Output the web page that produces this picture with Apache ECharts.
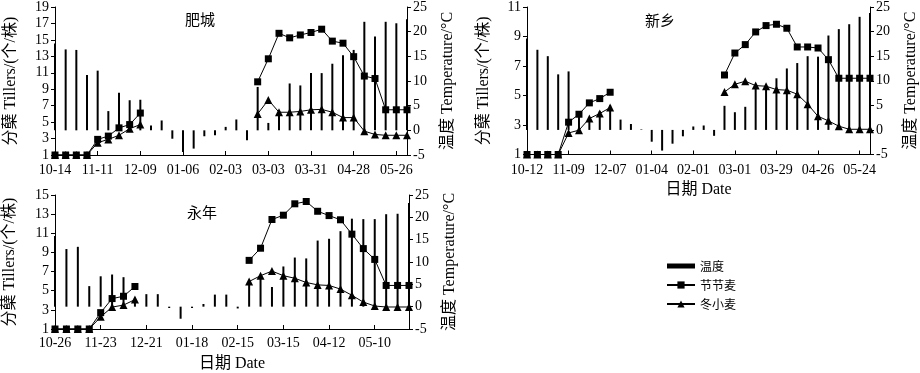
<!DOCTYPE html>
<html><head><meta charset="utf-8">
<script src="https://cdn.jsdelivr.net/npm/echarts@6/dist/echarts.min.js"></script>
<style>html,body{margin:0;padding:0;background:#fff}#c{width:920px;height:373px}</style>
</head><body><div id="c"></div>
<script>
// ---------- data ----------
const datesFC = ['10-14','10-21','10-28','11-04','11-11','11-18','11-25','12-02','12-09','12-16','12-23','12-30','01-06','01-13','01-20','01-27','02-03','02-10','02-17','02-24','03-03','03-10','03-17','03-24','03-31','04-07','04-14','04-21','04-28','05-05','05-12','05-19','05-26','06-02'];
const tempFC = [17.6,16.4,16.3,11.2,12.1,3.9,7.6,6.1,6.2,1.0,2.0,-1.7,-4.4,-3.7,-1.2,-1.0,0.7,2.2,-2.0,8.8,1.5,3.7,9.5,9.1,11.6,11.6,13.5,15.2,16.3,22.0,19.0,22.0,21.7,22.5];
const aeFC = [1,1,1,1,2.9,3.3,4.3,4.7,6.1,null,null,null,null,null,null,null,null,null,null,9.9,12.7,15.8,15.25,15.6,15.9,16.3,14.85,14.6,12.96,10.6,10.3,6.5,6.5,6.5];
const wheatFC = [1,1,1,1,2.5,2.9,3.4,4.2,4.7,null,null,null,null,null,null,null,null,null,null,6.0,7.7,6.2,6.2,6.3,6.5,6.55,6.2,5.55,5.55,3.9,3.5,3.4,3.4,3.4];

const datesXX = ['10-12','10-19','10-26','11-02','11-09','11-16','11-23','11-30','12-07','12-14','12-21','12-28','01-04','01-11','01-18','01-25','02-01','02-08','02-15','02-22','03-01','03-08','03-15','03-22','03-29','04-05','04-12','04-19','04-26','05-03','05-10','05-17','05-24','05-31'];
const tempXX = [18.6,16.3,15.0,11.3,11.9,3.3,2.6,3.8,5.0,2.1,1.2,0.1,-2.4,-4.2,-2.8,-1.3,0.7,0.9,-1.2,4.9,3.6,4.7,8.8,8.6,10.5,12.5,13.6,15.0,14.9,19.2,20.5,21.5,23.0,23.8];
const aeXX = [1,1,1,1,3.19,3.73,4.5,4.79,5.22,null,null,null,null,null,null,null,null,null,null,6.39,7.88,8.45,9.31,9.74,9.83,9.56,8.29,8.29,8.22,7.43,6.17,6.17,6.17,6.17];
const wheatXX = [1,1,1,1,2.46,2.65,3.44,3.78,4.18,null,null,null,null,null,null,null,null,null,null,5.24,5.76,5.97,5.67,5.63,5.40,5.36,5.09,4.41,3.59,3.28,2.92,2.71,2.71,2.71];

const datesYN = ['10-26','11-02','11-09','11-16','11-23','11-30','12-07','12-14','12-21','12-28','01-04','01-11','01-18','01-25','02-01','02-08','02-15','02-22','03-01','03-08','03-15','03-22','03-29','04-05','04-12','04-19','04-26','05-03','05-10','05-17','05-24','05-31'];
const tempYN = [15.8,12.9,13.4,4.6,6.8,7.2,6.6,2.0,2.8,2.8,-0.3,-2.7,-0.3,0.6,2.7,2.7,-0.4,6.0,6.8,4.4,9.0,11.0,10.8,14.8,15.2,16.9,19.7,19.6,19.6,20.7,20.8,23.2];
const aeYN = [1,1,1,1,2.71,4.18,4.42,5.44,null,null,null,null,null,null,null,null,null,8.17,9.44,12.44,12.89,14.08,14.32,13.30,12.85,12.41,10.91,9.40,8.27,5.55,5.55,5.55];
const wheatYN = [1,1,1,1,2.27,3.29,3.5,4.07,null,null,null,null,null,null,null,null,null,5.96,6.57,7.05,6.57,6.30,5.86,5.61,5.55,5.17,4.52,3.81,3.40,3.30,3.30,3.30];

const panelTitles = ['肥城','新乡','永年'];
const seriesNames = ['温度','节节麦','冬小麦'];
const leftAxisName = '分蘖 Tillers/(个/株)';
const rightAxisName = '温度 Temperature/°C';
const xAxisName = '日期 Date';
const leftRanges = [[1,19],[1,11],[1,15]];
const rightRange = [-5,25];

// ---------- styling ----------
const SERIF = "'Liberation Serif','Times New Roman',serif";
const MIX = "'Liberation Serif','Times New Roman','Noto Sans CJK SC',serif";
const CJK = "'Noto Sans CJK SC',sans-serif";
const BLACK = '#000';

const grids = [
  {left:55, top:6, width:352, height:149},
  {left:527, top:6.5, width:346.5, height:148},
  {left:55, top:195, width:354, height:137}
];
const leftGaps = [36, 35, 37];
const xNameShow = [false, true, true];
const xLabelMargin = [8, 9, 7];

const dates = [datesFC, datesXX, datesYN];
const temps = [tempFC, tempXX, tempYN];
const aes = [aeFC, aeXX, aeYN];
const wheats = [wheatFC, wheatXX, wheatYN];

const xAxes = [], yAxes = [], series = [];
for (let i = 0; i < 3; i++) {
  xAxes.push({
    type:'category', gridIndex:i, data:dates[i], boundaryGap:false,
    name: xNameShow[i] ? xAxisName : '', nameLocation:'middle', nameGap:27,
    nameTextStyle:{fontFamily:MIX, fontSize:16, color:BLACK},
    axisLine:{show:true, onZero:false, lineStyle:{color:BLACK, width:1}},
    axisTick:{show:true, inside:true, length:4, interval:3, lineStyle:{color:BLACK}},
    axisLabel:{interval:3, color:BLACK, fontFamily:SERIF, fontSize:14, margin:xLabelMargin[i]},
    splitLine:{show:false}
  });
  yAxes.push({
    type:'value', gridIndex:i, position:'left', min:leftRanges[i][0], max:leftRanges[i][1], interval:2,
    name:leftAxisName, nameLocation:'middle', nameGap:leftGaps[i], nameRotate:90,
    nameTextStyle:{fontFamily:MIX, fontSize:16, color:BLACK},
    axisLine:{show:true, lineStyle:{color:BLACK, width:1}},
    axisTick:{show:true, inside:false, length:4, lineStyle:{color:BLACK}},
    axisLabel:{color:BLACK, fontFamily:SERIF, fontSize:14, margin:6},
    splitLine:{show:false}
  });
  yAxes.push({
    type:'value', gridIndex:i, position:'right', min:rightRange[0], max:rightRange[1], interval:5,
    name:rightAxisName, nameLocation:'middle', nameGap:33, nameRotate:90,
    nameTextStyle:{fontFamily:MIX, fontSize:16, color:BLACK},
    axisLine:{show:true, lineStyle:{color:BLACK, width:1}},
    axisTick:{show:true, inside:false, length:4, lineStyle:{color:BLACK}},
    axisLabel:{color:BLACK, fontFamily:SERIF, fontSize:14, margin:6},
    splitLine:{show:false}
  });
  series.push({
    name:seriesNames[0], type:'bar', xAxisIndex:i, yAxisIndex:2*i+1,
    data:temps[i], barWidth:2, itemStyle:{color:BLACK}, z:1
  });
  series.push({
    name:seriesNames[2], type:'line', xAxisIndex:i, yAxisIndex:2*i,
    data:wheats[i], symbol:'triangle', symbolSize:8, showSymbol:true, showAllSymbol:true, connectNulls:false,
    lineStyle:{color:BLACK, width:1}, itemStyle:{color:BLACK}, z:3
  });
  series.push({
    name:seriesNames[1], type:'line', xAxisIndex:i, yAxisIndex:2*i,
    data:aes[i], symbol:'rect', symbolSize:7, showSymbol:true, showAllSymbol:true, connectNulls:false,
    lineStyle:{color:BLACK, width:1}, itemStyle:{color:BLACK}, z:4
  });
}

const titlePos = [[200,19],[660,20],[202,212]];
const graphics = panelTitles.map((t, i) => ({
  type:'text', x:titlePos[i][0], y:titlePos[i][1], z:10,
  style:{text:t, font:"15px 'Noto Sans CJK SC'", fill:BLACK, textAlign:'center', textVerticalAlign:'middle'}
}));

const chart = echarts.init(document.getElementById('c'), null, {renderer:'canvas'});
chart.setOption({
  animation:false,
  backgroundColor:'#fff',
  grid:grids,
  xAxis:xAxes,
  yAxis:yAxes,
  series:series,
  graphic:graphics,
  legend:{
    left:661, top:255, orient:'vertical', itemWidth:28, itemHeight:9, itemGap:7, itemTextGap:8,
    textStyle:{fontFamily:CJK, fontSize:12, color:BLACK},
    data:[
      {name:seriesNames[0], icon:'path://M0,0 L28,0 L28,5 L0,5 Z'},
      {name:seriesNames[1]},
      {name:seriesNames[2]}
    ]
  }
});
</script></body></html>
